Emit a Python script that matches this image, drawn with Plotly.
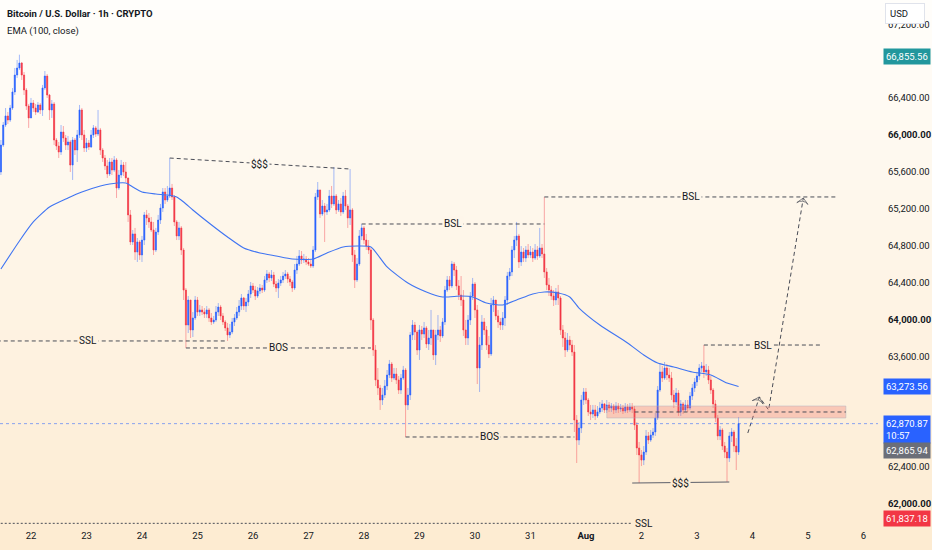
import numpy as np
import pandas as pd
import plotly.graph_objects as go

# ---------------- data (BTC/USD, 1h candles) ----------------
BASE = pd.Timestamp("2024-07-22 00:00")
FIRST_HOUR = -13            # first visible candle = Jul 21 11:00
FIRST_OPEN = 65599

close = [
    65891, 66108, 66206, 66162, 66292, 66466, 66650, 66726, 66780, 66650, 66487, 66314, 66184,
    66346, 66292, 66249, 66325, 66271, 66509, 66639, 66433, 66271, 66336, 65945, 65880, 65815, 66032, 65967, 65891, 65924, 65674, 65945, 65837, 66000, 66271, 66000, 65859,
    65913, 65870, 66000, 66076, 66010, 66054, 65837, 65750, 65664, 65577, 65707, 65620, 65729, 65425, 65566, 65674, 65599, 65534, 65133, 64840, 64927, 64731, 64840, 64699,
    64861, 65133, 65100, 65057, 64970, 64753, 64948, 65078, 65208, 65382, 65295, 65338, 65425, 65328, 65057, 64905, 64992, 64753, 64319, 63940, 64211, 63886, 64016, 64211,
    64081, 64103, 64081, 64059, 64103, 64016, 63973, 63994, 64081, 64135, 64038, 63973, 63908, 63832, 63864, 63973, 64016, 64081, 64146, 64233, 64146, 64189, 64276, 64363,
    64319, 64254, 64309, 64341, 64319, 64428, 64493, 64450, 64482, 64384, 64341, 64395, 64428, 64471, 64493, 64439, 64406, 64341, 64536, 64601, 64688, 64645, 64655, 64623,
    64601, 64580, 64753, 65328, 65404, 65143, 65230, 65165, 65187, 65338, 65252, 65338, 65187, 65252, 65165, 65338, 65230, 65100, 65187, 64699, 64428, 64601, 64905, 64992,
    64861, 64796, 64753, 63994, 63669, 63344, 63257, 63127, 63181, 63279, 63398, 63517, 63365, 63409, 63344, 63235, 63365, 63452, 63073, 63181, 63832, 63940, 63864, 63669,
    63886, 63842, 63908, 63734, 63799, 63886, 63615, 63832, 63886, 63821, 63973, 64319, 64428, 64363, 64601, 64536, 64363, 64265, 64211, 63886, 63799, 63994, 64254, 64384,
    64103, 63474, 63723, 63973, 63886, 63723, 63626, 64157, 64211, 64038, 63973, 63940, 64016, 64211, 64471, 64515, 64753, 64861, 64905, 64623, 64731, 64666, 64753, 64699,
    64731, 64666, 64753, 64688, 64775, 64710, 64515, 64374, 64319, 64254, 64211, 64298, 64233, 63886, 63799, 63669, 63777, 63723, 63647, 62910, 62693, 62823, 63127, 63214,
    63127, 62997, 62975, 63019, 62954, 62997, 63040, 63084, 63019, 63073, 63040, 63062, 63019, 63062, 63029, 63040, 63008, 63051, 63019, 63051, 63029, 62856, 62607, 62531,
    62476, 62563, 62737, 62693, 62747, 62780, 62932, 63235, 63431, 63365, 63474, 63398, 63365, 63181, 63105, 63203, 62997, 63084, 63019, 63073, 63040, 63170, 63257, 63322,
    63387, 63474, 63496, 63431, 63452, 63344, 63235, 63084, 62932, 62737, 62802, 62628, 62563, 62498, 62737, 62780, 62628, 62563, 62870.87,
]

high = [
    65945, 66141, 66292, 66249, 66325, 66509, 66726, 66813, 66870, 66791, 66683, 66509, 66336,
    66401, 66379, 66336, 66357, 66346, 66542, 66693, 66661, 66444, 66379, 66357, 65967, 65924, 66108, 66097, 66000, 65989, 65945, 65978, 65967, 66054, 66325, 66292, 66054,
    65967, 65945, 66054, 66108, 66097, 66271, 66076, 65859, 65783, 65729, 65750, 65750, 65772, 65750, 65620, 65729, 65707, 65707, 65534, 65187, 64970, 64992, 64883, 64861,
    64905, 65165, 65187, 65154, 65111, 65057, 64992, 65133, 65252, 65425, 65425, 65447, 65750, 65469, 65349, 65078, 65057, 65013, 64775, 64341, 64254, 64211, 64081, 64254,
    64244, 64157, 64146, 64124, 64146, 64124, 64070, 64038, 64146, 64178, 64157, 64070, 63994, 63962, 63951, 64016, 64059, 64135, 64211, 64276, 64244, 64233, 64319, 64406,
    64395, 64363, 64352, 64384, 64374, 64471, 64536, 64515, 64536, 64515, 64417, 64439, 64471, 64515, 64536, 64515, 64471, 64428, 64601, 64688, 64753, 64742, 64710, 64688,
    64666, 64645, 64796, 65371, 65490, 65404, 65295, 65263, 65252, 65404, 65447, 65653, 65360, 65295, 65317, 65382, 65404, 65252, 65631, 65208, 64753, 64666, 64970, 65035,
    65013, 64927, 64861, 64775, 64016, 63723, 63474, 63290, 63257, 63344, 63452, 63561, 63539, 63474, 63474, 63387, 63409, 63496, 63474, 63257, 63864, 63994, 63973, 63886,
    63940, 63929, 63973, 63929, 63886, 64103, 63886, 63886, 64048, 63929, 64016, 64363, 64471, 64471, 64634, 64623, 64580, 64428, 64471, 64319, 63994, 64048, 64298, 64450,
    64406, 64157, 63810, 64048, 64016, 63929, 63821, 64233, 64254, 64211, 64103, 64016, 64081, 64254, 64515, 64558, 64796, 64905, 65057, 64927, 64796, 64775, 64796, 64818,
    64796, 64775, 64818, 64796, 64992, 64818, 65328, 64558, 64450, 64363, 64319, 64341, 64374, 64254, 63940, 63864, 63853, 63821, 63777, 63723, 62964, 62888, 63181, 63257,
    63257, 63149, 63073, 63073, 63073, 63062, 63105, 63127, 63094, 63127, 63105, 63094, 63084, 63105, 63094, 63084, 63073, 63094, 63084, 63094, 63094, 63062, 62888, 62672,
    62585, 62628, 62802, 62780, 62802, 62823, 62986, 63279, 63528, 63496, 63539, 63517, 63474, 63431, 63235, 63257, 63235, 63127, 63105, 63127, 63127, 63214, 63300, 63365,
    63431, 63517, 63539, 63723, 63517, 63496, 63387, 63257, 63127, 62964, 62845, 62823, 62672, 62607, 62780, 62823, 62802, 62715, 62943,
]

low = [
    65566, 65870, 66086, 66119, 66141, 66271, 66433, 66618, 66704, 66596, 66433, 66271, 66076,
    66184, 66249, 66216, 66238, 66227, 66206, 66487, 66401, 66162, 66184, 65891, 65837, 65750, 65783, 65924, 65837, 65837, 65599, 65512, 65783, 65707, 65967, 65945, 65815,
    65815, 65837, 65859, 65967, 65978, 65989, 65783, 65707, 65620, 65534, 65555, 65566, 65599, 65317, 65404, 65534, 65555, 65490, 65057, 64807, 64807, 64645, 64623, 64645,
    64623, 64807, 65024, 64992, 64948, 64699, 64731, 64916, 65035, 65165, 65252, 65273, 65317, 65295, 65013, 64861, 64861, 64699, 64211, 63691, 63853, 63799, 63810, 63994,
    64038, 64038, 64048, 64016, 64016, 63973, 63940, 63951, 63973, 64038, 63994, 63940, 63875, 63767, 63799, 63842, 63929, 63994, 64038, 64103, 64103, 64081, 64146, 64233,
    64287, 64211, 64233, 64276, 64287, 64298, 64395, 64406, 64417, 64352, 64298, 64233, 64363, 64395, 64439, 64395, 64363, 64298, 64319, 64493, 64580, 64601, 64612, 64590,
    64580, 64558, 64558, 64731, 65295, 65100, 65122, 64840, 65133, 65165, 65208, 65230, 65143, 65165, 65122, 65143, 65187, 64992, 65024, 64623, 64341, 64406, 64580, 64861,
    64818, 64753, 64710, 63886, 63604, 63279, 63181, 63019, 63073, 63149, 63235, 63365, 63322, 63344, 63300, 63192, 63192, 63344, 62726, 63019, 63127, 63777, 63777, 63615,
    63561, 63777, 63799, 63691, 63669, 63723, 63561, 63506, 63777, 63756, 63799, 63940, 64298, 64319, 64341, 64471, 64319, 64211, 64146, 63821, 63723, 63723, 63940, 64211,
    64016, 63300, 63214, 63669, 63832, 63669, 63582, 63604, 64081, 63994, 63908, 63886, 63886, 63929, 64157, 64428, 64471, 64666, 64796, 64558, 64580, 64623, 64623, 64666,
    64666, 64623, 64645, 64645, 64666, 64666, 64450, 64319, 64254, 64211, 64146, 64157, 64157, 63832, 63702, 63593, 63647, 63669, 63604, 62780, 62444, 62639, 62769, 63073,
    63084, 62954, 62910, 62932, 62910, 62932, 62975, 62997, 62986, 62986, 62997, 62997, 62975, 62986, 62986, 62997, 62975, 62986, 62986, 62997, 62986, 62802, 62531, 62227,
    62411, 62422, 62531, 62650, 62672, 62715, 62737, 62910, 63214, 63322, 63344, 63344, 63322, 63127, 63040, 63073, 62954, 62954, 62975, 62997, 62997, 63019, 63127, 63214,
    63279, 63344, 63431, 63365, 63387, 63300, 63192, 63040, 62888, 62693, 62693, 62585, 62498, 62238, 62455, 62672, 62563, 62368, 62531,
]

# EMA(100, close): (hour offset from Jul 22 00:00, value)
ema_hours = [-13, -5, 1, 8, 16, 22, 30, 34, 41, 44, 48, 54, 59, 63, 66, 70, 77, 85, 92, 99,
             106, 113, 122, 128, 135, 142, 147, 154, 163, 171, 178, 186, 191, 197, 204, 210,
             217, 222, 228, 233, 237, 246, 258, 265, 271, 278, 286, 294, 301, 306]
ema_values = [64547, 64851, 65057, 65219, 65317, 65382, 65447, 65469, 65479, 65436, 65382, 65360,
              65349, 65328, 65273, 65187, 65046, 64894, 64775, 64721, 64688, 64655, 64655, 64721,
              64786, 64796, 64786, 64569, 64395, 64298, 64244, 64254, 64244, 64178, 64157, 64211,
              64276, 64298, 64287, 64244, 64124, 63940, 63745, 63615, 63528, 63485, 63431, 63398,
              63311, 63273.56]

# chart drawings (hour offsets / prices)
level_labels = ["SSL", "$$$", "BOS", "BSL", "BSL", "BOS", "BSL"]
level_start_h = [-36, 60, 67, 143, 222, 162, 291]
level_end_h = [85, 138, 147, 222, 349, 235, 342]
level_start_p = [63767, 65750, 63691, 65035, 65328, 62726, 63723]
level_end_p = [63767, 65631, 63691, 65035, 65328, 62726, 63723]

low_sss_h = [260, 302]
low_sss_p = [62227, 62238]
bottom_ssl_h = [-20, 260]
bottom_ssl_p = 61790
zone_h = [249, 352.4]
zone_p = [62932, 63062]
zone_mid_h = [261, 352.4]
zone_mid_p = 62997
path_h = [310, 315, 319, 334]
path_p = [62769, 63160, 63019, 65317]

price_ticks = [62000, 62400, 62800, 63200, 63600, 64000, 64400, 64800,
               65200, 65600, 66000, 66400, 66800, 67200]
hidden_ticks = [62800, 63200, 66800]      # covered by price-scale labels
day_ticks = ["2024-07-22", "2024-07-23", "2024-07-24", "2024-07-25", "2024-07-26",
             "2024-07-27", "2024-07-28", "2024-07-29", "2024-07-30", "2024-07-31",
             "2024-08-01", "2024-08-02", "2024-08-03", "2024-08-04", "2024-08-05",
             "2024-08-06"]
day_labels = ["22", "23", "24", "25", "26", "27", "28", "29", "30", "31",
              "<b>Aug</b>", "2", "3", "4", "5", "6"]

LAST_PRICE = 62870.87
EMA_LAST = 63273.56
HIGH_MARK = 66855.56
PREV_MARK = 62865.94
ALERT_MARK = 61837.18

# ---------------- styling ----------------
W, H = 932, 550
M_R, M_B = 54, 22
PLOT_H = H - M_B
Y_MIN, Y_MAX = 61739.5, 67463.0
X_LEFT_H, X_RIGHT_H = -13.4, 366.3
UP, DN = "#2962ff", "#f23645"
UP_WICK, DN_WICK = "rgba(41,98,255,0.42)", "rgba(242,54,69,0.42)"
LINE_COL = "#4a4d57"
TXT = "#131722"
FONT = "Roboto, Liberation Sans, sans-serif"
BG_TOP = np.array([255, 254, 251])
BG_BOT = np.array([253, 235, 209])


def T(h):
    return (BASE + pd.Timedelta(hours=float(h))).strftime("%Y-%m-%d %H:%M:%S")


def bg_rgb(frac):
    c = BG_TOP + (BG_BOT - BG_TOP) * min(max(frac, 0), 1)
    return "rgb(%d,%d,%d)" % tuple(np.round(c).astype(int))


def bg_at_price(p):
    px = (Y_MAX - p) / (Y_MAX - Y_MIN) * PLOT_H
    return bg_rgb(px / H)


n = len(close)
hours = np.arange(FIRST_HOUR, FIRST_HOUR + n)
times = [T(h) for h in hours]
opn = [FIRST_OPEN] + close[:-1]   # candles are contiguous: open = previous close

fig = go.Figure()

# wicks
for is_up, col in ((True, UP_WICK), (False, DN_WICK)):
    xs, ys = [], []
    for t, o, c, hi, lo in zip(times, opn, close, high, low):
        if (c >= o) == is_up:
            xs += [t, t, None]
            ys += [lo, hi, None]
    fig.add_trace(go.Scatter(x=xs, y=ys, mode="lines", line=dict(color=col, width=1),
                             hoverinfo="skip", showlegend=False))

# bodies
body_hi = np.maximum(opn, close)
body_lo = np.minimum(opn, close)
fig.add_trace(go.Candlestick(
    x=times, open=opn, high=body_hi, low=body_lo, close=close,
    increasing=dict(line=dict(color=UP, width=0.6), fillcolor=UP),
    decreasing=dict(line=dict(color=DN, width=0.6), fillcolor=DN),
    whiskerwidth=0, hoverinfo="skip", showlegend=False))

# EMA
fig.add_trace(go.Scatter(x=[T(h) for h in ema_hours], y=ema_values, mode="lines",
                         line=dict(color="#3f74f2", width=1.1, shape="spline", smoothing=0.6),
                         hoverinfo="skip", showlegend=False))

# projection path
fig.add_trace(go.Scatter(x=[T(h) for h in path_h], y=path_p, mode="lines+markers",
                         line=dict(color=LINE_COL, width=1, dash="4px,3px"),
                         marker=dict(symbol="arrow-wide-open", size=[0, 8, 0, 8], angleref="previous",
                                     color=LINE_COL, line=dict(color=LINE_COL, width=1)),
                         hoverinfo="skip", showlegend=False))

shapes = []
# background gradient
N_BANDS = 55
for i in range(N_BANDS):
    top_px = i * H / N_BANDS
    bot_px = (i + 1) * H / N_BANDS + 0.6
    shapes.append(dict(type="rect", xref="paper", yref="paper", layer="below",
                       x0=-0.01, x1=1.08, y0=1 - bot_px / PLOT_H, y1=1 - top_px / PLOT_H,
                       line=dict(width=0), fillcolor=bg_rgb((i + 0.5) / N_BANDS)))

# last price dotted line
shapes.append(dict(type="line", xref="paper", yref="y", x0=0, x1=1, y0=LAST_PRICE, y1=LAST_PRICE,
                   line=dict(color="rgba(41,98,255,0.55)", width=1, dash="dot")))

# zone
shapes.append(dict(type="rect", xref="x", yref="y", x0=T(zone_h[0]), x1=T(zone_h[1]),
                   y0=zone_p[0], y1=zone_p[1], fillcolor="rgba(242,110,100,0.30)",
                   line=dict(color="rgba(170,175,190,0.45)", width=1)))
shapes.append(dict(type="line", xref="x", yref="y", x0=T(zone_mid_h[0]), x1=T(zone_mid_h[1]),
                   y0=zone_mid_p, y1=zone_mid_p, line=dict(color=LINE_COL, width=1, dash="4px,3px")))

annotations = []
LBL_FONT = dict(family=FONT, size=10, color=TXT)
# level lines with centered labels
for lab, h0, h1, p0, p1 in zip(level_labels, level_start_h, level_end_h, level_start_p, level_end_p):
    shapes.append(dict(type="line", xref="x", yref="y", x0=T(h0), x1=T(h1), y0=p0, y1=p1,
                       line=dict(color=LINE_COL, width=1, dash="4px,3px")))
    pm = (p0 + p1) / 2
    annotations.append(dict(x=T((h0 + h1) / 2), y=pm, xref="x", yref="y", text=lab,
                            showarrow=False, font=LBL_FONT, bgcolor=bg_at_price(pm), borderpad=1))

# bottom $$$ (solid)
shapes.append(dict(type="line", xref="x", yref="y", x0=T(low_sss_h[0]), x1=T(low_sss_h[1]),
                   y0=low_sss_p[0], y1=low_sss_p[1], line=dict(color="#5d606b", width=1)))
pm = sum(low_sss_p) / 2
annotations.append(dict(x=T(sum(low_sss_h) / 2), y=pm, xref="x", yref="y", text="$$$",
                        showarrow=False, font=LBL_FONT, bgcolor=bg_at_price(pm), borderpad=1))

# bottom SSL (dotted) with label at its end
shapes.append(dict(type="line", xref="x", yref="y", x0=T(bottom_ssl_h[0]), x1=T(bottom_ssl_h[1]),
                   y0=bottom_ssl_p, y1=bottom_ssl_p, line=dict(color=LINE_COL, width=1, dash="2px,2px")))
annotations.append(dict(x=T(bottom_ssl_h[1]), y=bottom_ssl_p, xref="x", yref="y", text="SSL",
                        xanchor="left", xshift=1, showarrow=False, font=LBL_FONT))

# header text
annotations.append(dict(x=0, y=1, xref="paper", yref="paper", xanchor="left", yanchor="top",
                        xshift=5, yshift=-6, showarrow=False, align="left",
                        text="<b>Bitcoin / U.S. Dollar · 1h · CRYPTO</b>",
                        font=dict(family=FONT, size=9.5, color=TXT)))
annotations.append(dict(x=0, y=1, xref="paper", yref="paper", xanchor="left", yanchor="top",
                        xshift=5, yshift=-23, showarrow=False, align="left",
                        text="EMA (100, close)", font=dict(family=FONT, size=9.5, color=TXT)))

# price-scale labels
def scale_label(price, text, color, yanchor="middle", yshift=0):
    annotations.append(dict(x=1, y=price, xref="paper", yref="y", xanchor="left", yanchor=yanchor,
                            xshift=5, yshift=yshift, text=text, showarrow=False, align="left",
                            bgcolor=color, borderpad=2, width=42,
                            font=dict(family=FONT, size=9.5, color="white")))

scale_label(HIGH_MARK, f"{HIGH_MARK:,.2f}", "#22979d")
scale_label(EMA_LAST, f"{EMA_LAST:,.2f}", UP)
scale_label(LAST_PRICE, f"{LAST_PRICE:,.2f}<br>10:57", UP, yanchor="top", yshift=9)
scale_label(PREV_MARK, f"{PREV_MARK:,.2f}", "#6b6e78", yanchor="top", yshift=-18)
scale_label(ALERT_MARK, f"{ALERT_MARK:,.2f}", DN)

# USD button
annotations.append(dict(x=1, y=1, xref="paper", yref="paper", xanchor="left", yanchor="top",
                        xshift=7, yshift=-3, text="USD", showarrow=False, align="left",
                        bgcolor="white", bordercolor="#e0e3eb", borderwidth=1, borderpad=4, width=30,
                        font=dict(family=FONT, size=9.5, color=TXT)))

tick_text = []
for v in price_ticks:
    if v in hidden_ticks:
        tick_text.append("")
    elif v % 2000 == 0:
        tick_text.append(f"<b>{v:,.2f}</b>")
    else:
        tick_text.append(f"{v:,.2f}")

fig.update_layout(
    width=W, height=H,
    margin=dict(l=0, r=M_R, t=0, b=M_B, pad=0),
    paper_bgcolor=bg_rgb(0.5), plot_bgcolor="rgba(0,0,0,0)",
    showlegend=False, hovermode=False,
    shapes=shapes, annotations=annotations,
    font=dict(family=FONT, color=TXT),
    xaxis=dict(type="date", range=[T(X_LEFT_H), T(X_RIGHT_H)], rangeslider=dict(visible=False),
               tickvals=day_ticks, ticktext=day_labels, showgrid=False, zeroline=False,
               showline=False, ticks="", tickfont=dict(family=FONT, size=9.5, color=TXT),
               fixedrange=True),
    yaxis=dict(side="right", range=[Y_MIN, Y_MAX], tickvals=price_ticks, ticktext=tick_text,
               showgrid=False, zeroline=False, showline=False, ticks="outside", ticklen=7,
               tickcolor="rgba(0,0,0,0)", tickfont=dict(family=FONT, size=9.5, color=TXT),
               fixedrange=True),
)

fig.write_html("out.html", config={"displayModeBar": False},
               post_script="document.body.style.margin='0px';document.body.style.overflow='hidden';")
